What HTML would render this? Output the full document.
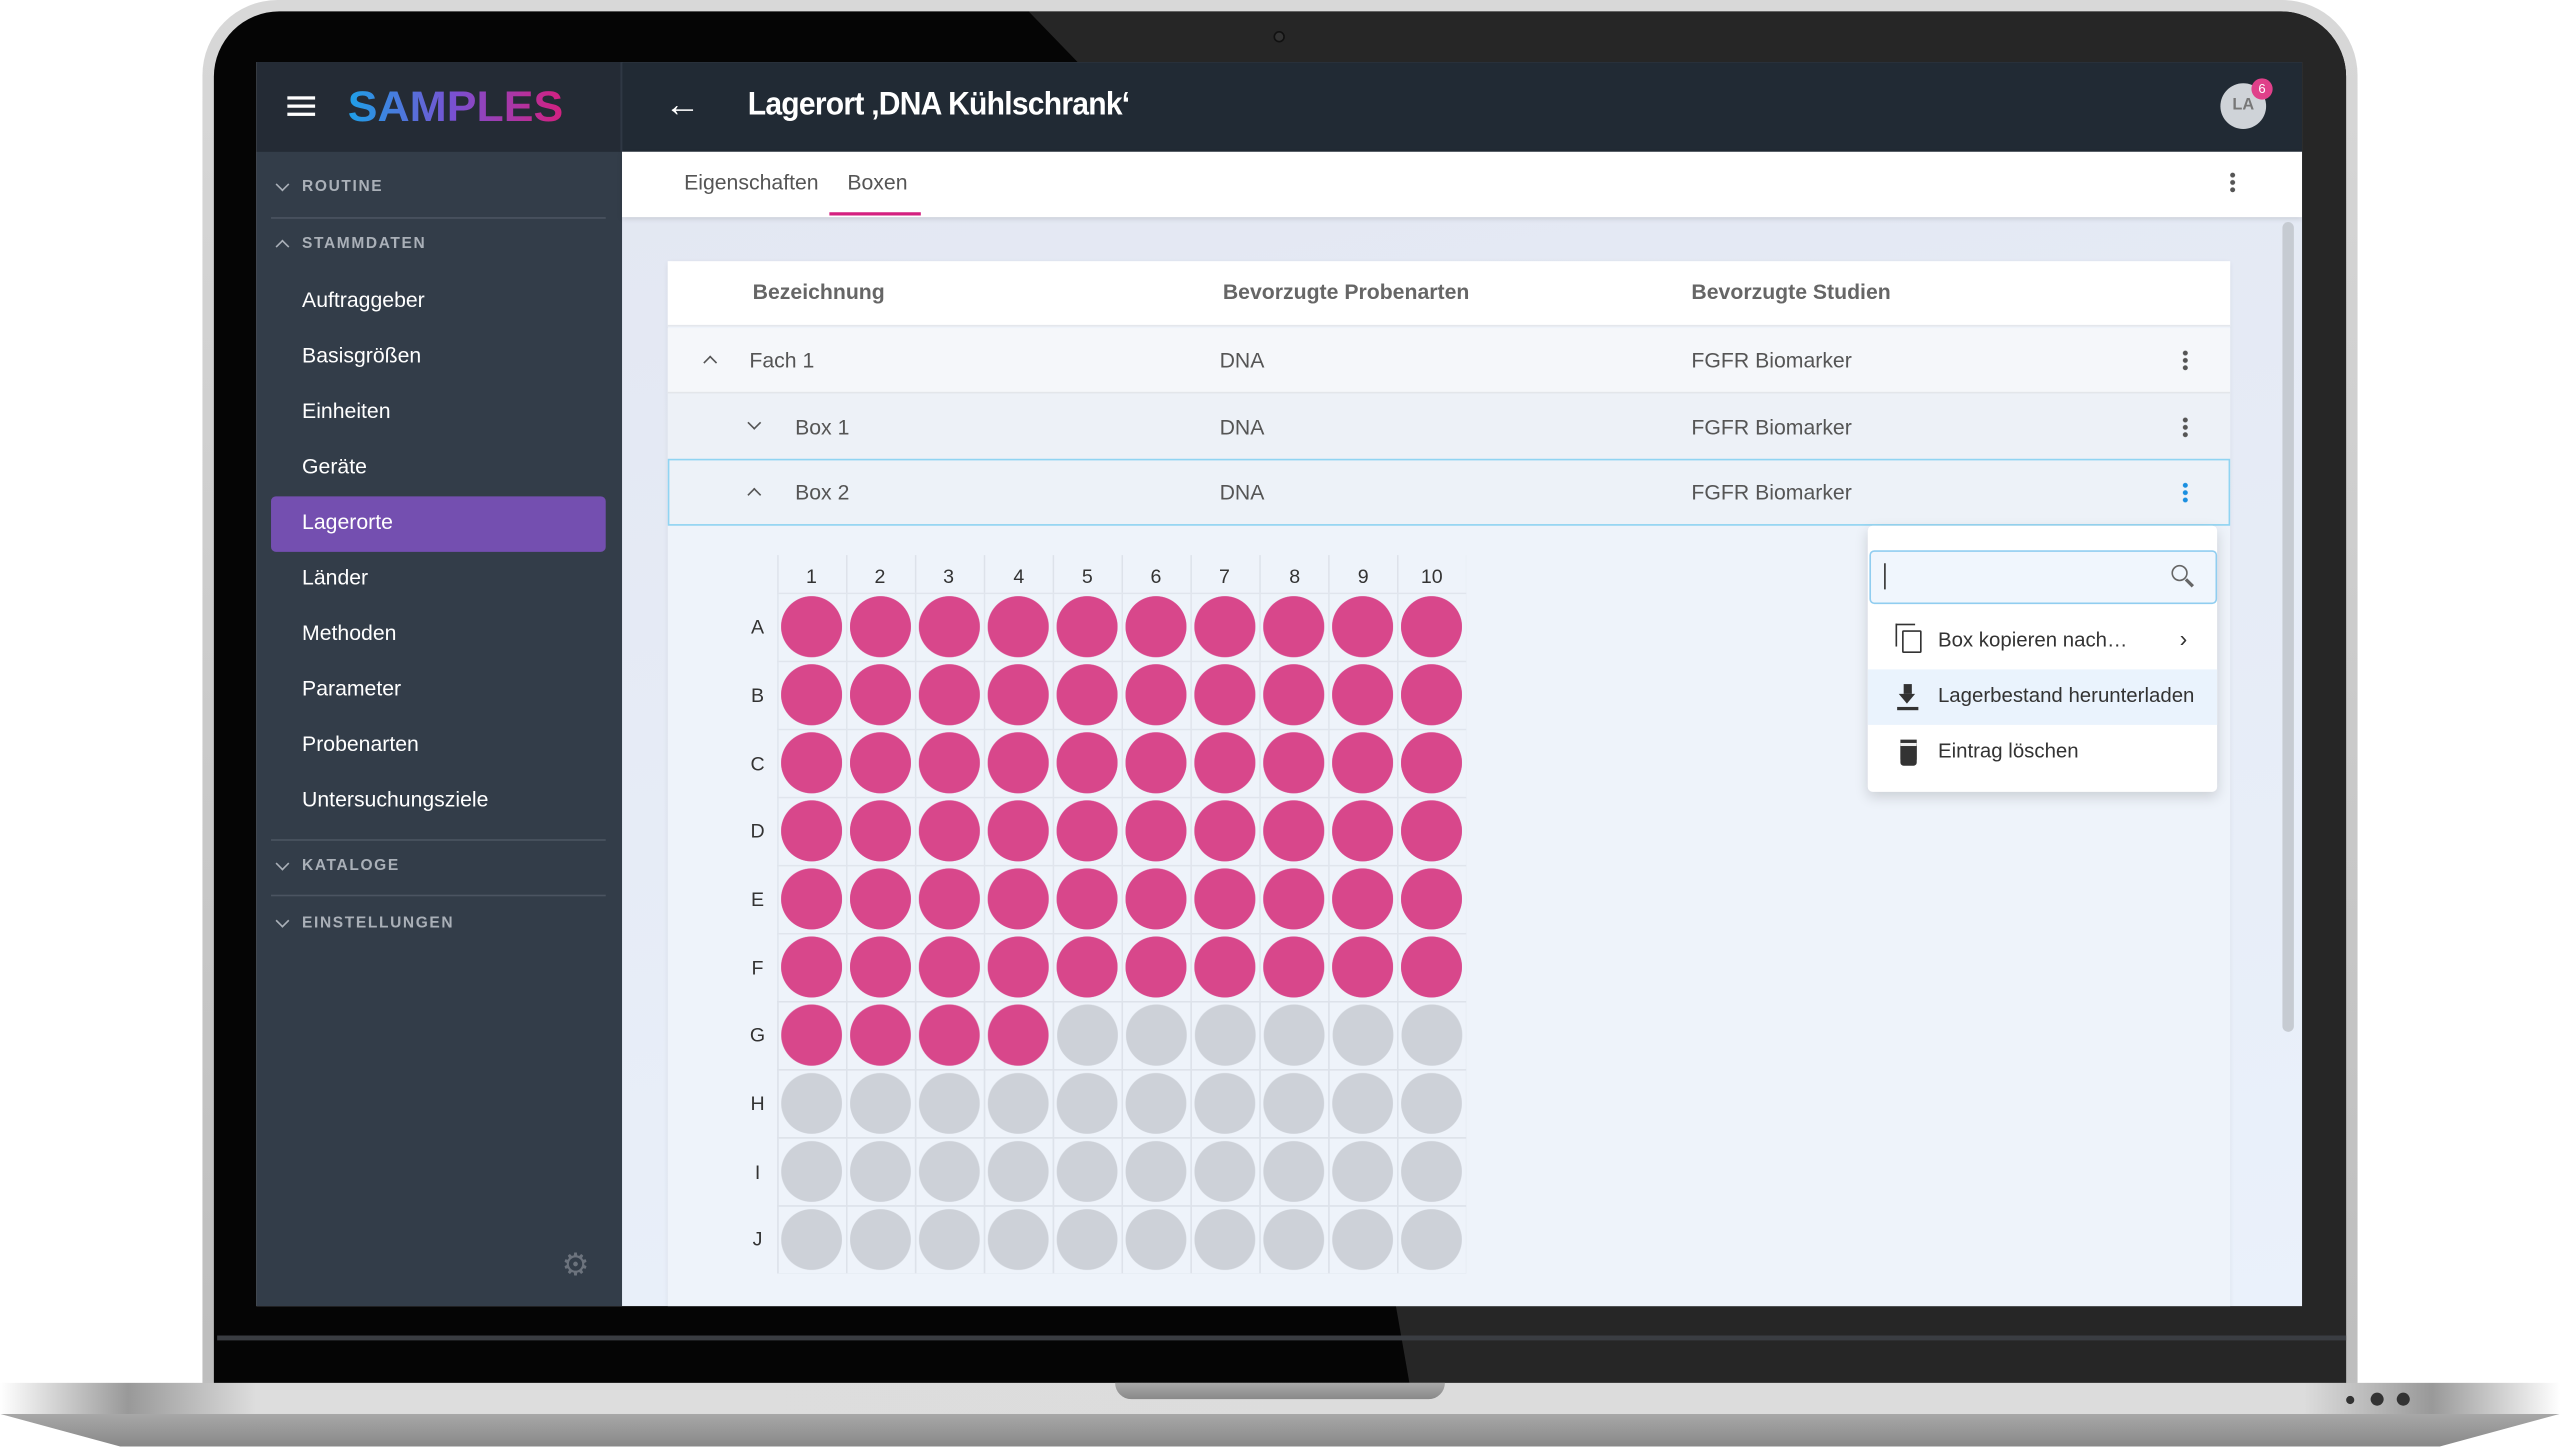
<!DOCTYPE html>
<html><head><meta charset="utf-8"><style>
*{margin:0;padding:0;box-sizing:border-box}
html,body{width:2560px;height:1446px;overflow:hidden;background:#fff}
#w{position:absolute;left:0;top:0;width:1568px;height:886px;transform:scale(1.63265);transform-origin:0 0;font-family:"Liberation Sans Narrow","Liberation Sans",sans-serif}
.a{position:absolute}
.t{position:absolute;white-space:nowrap}
.side{color:#fff;font-size:13px}
.sec{color:#aab0b8;font-size:9.5px;font-weight:bold;letter-spacing:1px;font-family:"Liberation Sans",sans-serif}
.row{font-size:13px;color:#555}
.hdr{font-size:13px;color:#666;font-weight:bold}
.dots{position:absolute;width:3px;height:13px;background:radial-gradient(circle,#555 1.4px,transparent 1.6px) 0 0/3px 4.5px repeat-y}
.lab{position:absolute;font-size:12px;color:#333;text-align:center;width:20px}
.cd,.cu{position:absolute;width:6px;height:6px;border-right:1.6px solid #aab0b8;border-bottom:1.6px solid #aab0b8}
.cd{transform:rotate(45deg)}.cu{transform:rotate(-135deg)}
.dk{border-color:#555}
</style></head><body><div id="w">
<!-- laptop lid -->
<div class="a" style="left:124px;top:0;width:1320px;height:860px;border-radius:46px 46px 0 0;background:linear-gradient(#d8d8d8,#bdbdbd);"></div>
<div class="a" style="left:131px;top:7px;width:1306px;height:850px;border-radius:40px 40px 0 0;background:#050505"></div>
<div class="a" style="left:131px;top:7px;width:1306px;height:850px;border-radius:40px 40px 0 0;background:#262626;clip-path:polygon(499px 0,100% 0,100% 100%,734px 100%,724px 793px,529px 31px)"></div>
<div class="a" style="left:133px;top:818px;width:1304px;height:3px;background:#3a3d42"></div>
<div class="a" style="left:780px;top:19px;width:7px;height:7px;border-radius:50%;background:#333;border:1.5px solid #111"></div>
<!-- base -->
<div class="a" style="left:0;top:847px;width:1568px;height:20px;background:linear-gradient(90deg,#fff 0,#999 5%,#ddd 10%,#dcdcdc 90%,#999 95%,#fff 100%)"></div>
<div class="a" style="left:0;top:866px;width:1568px;height:20px;background:linear-gradient(#a8a8a8,#888);clip-path:polygon(0 0,100% 0,95.3% 100%,4.7% 100%)"></div>
<div class="a" style="left:683px;top:847px;width:202px;height:10px;border-radius:0 0 10px 10px;background:linear-gradient(#aaa,#888)"></div>
<div class="a" style="left:1437px;top:855px;width:5px;height:5px;border-radius:50%;background:#333"></div>
<div class="a" style="left:1452px;top:853px;width:8px;height:8px;border-radius:50%;background:#333"></div>
<div class="a" style="left:1468px;top:853px;width:8px;height:8px;border-radius:50%;background:#333"></div>
<!-- screen -->
<div class="a" style="left:157px;top:38px;width:1253px;height:762px;background:linear-gradient(170deg,#e2e6f1,#eaf1fb);overflow:hidden">
 <div class="a" style="left:0;top:0;width:224px;height:762px;background:#333d49"></div>
 <div class="a" style="left:0;top:0;width:224px;height:55px;background:#242b35"></div>
 <div class="a" style="left:224px;top:0;width:1029px;height:55px;background:#212a34"></div>
 <div class="a" style="left:223px;top:0;width:1px;height:55px;background:#2f3844"></div>
 <div class="a" style="left:19px;top:21px;width:17px;height:2px;background:#fff;box-shadow:0 5px 0 #fff,0 10px 0 #fff"></div>
 <div class="t" style="left:56px;top:12px;font-size:26px;font-weight:bold;letter-spacing:0;font-family:'Liberation Sans',sans-serif;transform:scaleX(1.05);transform-origin:0 0;background:linear-gradient(90deg,#1ea0e8,#7b4fd0 50%,#d4207f);-webkit-background-clip:text;color:transparent">SAMPLES</div>
 <div class="t" style="left:250px;top:13px;color:#fff;font-size:22px">&#8592;</div>
 <div class="t" style="left:301px;top:15px;color:#fff;font-size:20px;font-weight:bold;letter-spacing:-0.5px;transform:scaleX(0.92);transform-origin:0 0">Lagerort ‚DNA Kühlschrank‘</div>
 <div class="a" style="left:1203px;top:13px;width:28px;height:28px;border-radius:50%;background:#cfd3d8;color:#777;font-size:10px;font-weight:bold;text-align:center;line-height:28px">LA</div>
 <div class="a" style="left:1222px;top:10px;width:13px;height:13px;border-radius:50%;background:#e0408a;color:#fff;font-size:8px;text-align:center;line-height:13px">6</div>
 <!-- sidebar -->
 <div class="cd" style="left:13px;top:72px"></div><div class="t sec" style="left:28px;top:71px">ROUTINE</div>
 <div class="a" style="left:9px;top:95px;width:205px;height:1px;background:#4b5461"></div>
 <div class="cu" style="left:13px;top:110px"></div><div class="t sec" style="left:28px;top:106px">STAMMDATEN</div>
 <div class="t side" style="left:28px;top:138px">Auftraggeber</div>
 <div class="t side" style="left:28px;top:172px">Basisgrößen</div>
 <div class="t side" style="left:28px;top:206px">Einheiten</div>
 <div class="t side" style="left:28px;top:240px">Geräte</div>
 <div class="a" style="left:9px;top:266px;width:205px;height:34px;border-radius:3px;background:#744fb0"></div>
 <div class="t side" style="left:28px;top:274px">Lagerorte</div>
 <div class="t side" style="left:28px;top:308px">Länder</div>
 <div class="t side" style="left:28px;top:342px">Methoden</div>
 <div class="t side" style="left:28px;top:376px">Parameter</div>
 <div class="t side" style="left:28px;top:410px">Probenarten</div>
 <div class="t side" style="left:28px;top:444px">Untersuchungsziele</div>
 <div class="a" style="left:9px;top:476px;width:205px;height:1px;background:#4b5461"></div>
 <div class="cd" style="left:13px;top:488px"></div><div class="t sec" style="left:28px;top:487px">KATALOGE</div>
 <div class="a" style="left:9px;top:510px;width:205px;height:1px;background:#4b5461"></div>
 <div class="cd" style="left:13px;top:523px"></div><div class="t sec" style="left:28px;top:522px">EINSTELLUNGEN</div>
 <div class="t" style="left:187px;top:726px;color:#6c737d;font-size:19px">&#9881;</div>
 <!-- tabs -->
 <div class="a" style="left:224px;top:55px;width:1029px;height:40px;background:#fff;box-shadow:0 1px 3px rgba(0,0,0,.12)"></div>
 <div class="t" style="left:262px;top:66px;font-size:13px;color:#555">Eigenschaften</div>
 <div class="t" style="left:362px;top:66px;font-size:13px;color:#555">Boxen</div>
 <div class="a" style="left:351px;top:92px;width:56px;height:2px;background:#d4207f"></div>
 <div class="dots" style="left:1209px;top:67px"></div>
 <div class="a" style="left:1241px;top:98px;width:7px;height:496px;border-radius:4px;background:#c6cbd2"></div>
 <!-- table -->
 <div class="a" style="left:252px;top:122px;width:957px;height:700px;background:#eef3fa;box-shadow:0 1px 3px rgba(0,0,0,.08)"></div>
 <div class="a" style="left:252px;top:122px;width:957px;height:40px;background:#fff;border-bottom:1px solid #e4e7ec"></div>
 <div class="t hdr" style="left:304px;top:133px">Bezeichnung</div>
 <div class="t hdr" style="left:592px;top:133px">Bevorzugte Probenarten</div>
 <div class="t hdr" style="left:879px;top:133px">Bevorzugte Studien</div>
 <div class="a" style="left:252px;top:163px;width:957px;height:40px;background:#f5f7fa;border-bottom:1px solid #e3e6ea"></div>
 <div class="cu dk" style="left:275px;top:181px"></div><div class="t row" style="left:302px;top:175px">Fach 1</div><div class="t row" style="left:590px;top:175px">DNA</div><div class="t row" style="left:879px;top:175px">FGFR Biomarker</div>
 <div class="dots" style="left:1180px;top:176px"></div>
 <div class="a" style="left:252px;top:203px;width:957px;height:40px;background:#edf1f7"></div>
 <div class="cd dk" style="left:302px;top:218px"></div><div class="t row" style="left:330px;top:216px">Box 1</div><div class="t row" style="left:590px;top:216px">DNA</div><div class="t row" style="left:879px;top:216px">FGFR Biomarker</div>
 <div class="dots" style="left:1180px;top:217px"></div>
 <div class="a" style="left:252px;top:243px;width:957px;height:41px;background:#edf2f8;border:1px solid #90d4f2"></div>
 <div class="cu dk" style="left:302px;top:262px"></div><div class="t row" style="left:330px;top:256px">Box 2</div><div class="t row" style="left:590px;top:256px">DNA</div><div class="t row" style="left:879px;top:256px">FGFR Biomarker</div>
 <div class="dots" style="left:1180px;top:257px;background:radial-gradient(circle,#1a8fe0 1.4px,transparent 1.6px) 0 0/3px 4.5px repeat-y"></div>
 <!-- grid -->
 <div class="a" style="left:319px;top:302px;width:422px;height:440px;background:linear-gradient(90deg,#dde2ea 1px,transparent 1px) 0 0/42.2px 100%, linear-gradient(#dde2ea 1px,transparent 1px) 0 23px/100% 41.7px;"></div>
 <div class="a" style="left:319px;top:325px;width:422px;height:250.2px;background:#eef3fa radial-gradient(circle 18.8px at 21.1px 20.85px,#d8478b 98%,transparent 100%) 0 0/42.2px 41.7px"></div>
 <div class="a" style="left:319px;top:325px;width:422px;height:417px;background:linear-gradient(90deg,#dde2ea 1px,transparent 1px) 0 0/42.2px 100%, linear-gradient(#dde2ea 1px,transparent 1px) 0 0/100% 41.7px;opacity:.8"></div>
 <div class="a" style="left:319px;top:325px;width:422px;height:250.2px;background:radial-gradient(circle 18.8px at 21.1px 20.85px,#d8478b 98%,transparent 100%) 0 0/42.2px 41.7px"></div>
 <div class="a" style="left:319px;top:575.2px;width:168.8px;height:41.7px;background:radial-gradient(circle 18.8px at 21.1px 20.85px,#d8478b 98%,transparent 100%) 0 0/42.2px 41.7px"></div>
 <div class="a" style="left:487.8px;top:575.2px;width:253.2px;height:41.7px;background:radial-gradient(circle 18.8px at 21.1px 20.85px,#cdd1d8 98%,transparent 100%) 0 0/42.2px 41.7px"></div>
 <div class="a" style="left:319px;top:616.9px;width:422px;height:125.1px;background:radial-gradient(circle 18.8px at 21.1px 20.85px,#cdd1d8 98%,transparent 100%) 0 0/42.2px 41.7px"></div>
 <div class="lab" style="left:330px;top:308px">1</div><div class="lab" style="left:372px;top:308px">2</div><div class="lab" style="left:414px;top:308px">3</div><div class="lab" style="left:457px;top:308px">4</div><div class="lab" style="left:499px;top:308px">5</div><div class="lab" style="left:541px;top:308px">6</div><div class="lab" style="left:583px;top:308px">7</div><div class="lab" style="left:626px;top:308px">8</div><div class="lab" style="left:668px;top:308px">9</div><div class="lab" style="left:710px;top:308px">10</div>
 <div class="lab" style="left:297px;top:339px">A</div><div class="lab" style="left:297px;top:381px">B</div><div class="lab" style="left:297px;top:423px">C</div><div class="lab" style="left:297px;top:464px">D</div><div class="lab" style="left:297px;top:506px">E</div><div class="lab" style="left:297px;top:548px">F</div><div class="lab" style="left:297px;top:589px">G</div><div class="lab" style="left:297px;top:631px">H</div><div class="lab" style="left:297px;top:673px">I</div><div class="lab" style="left:297px;top:714px">J</div>
 <!-- menu -->
 <div class="a" style="left:987px;top:284px;width:214px;height:163px;background:#fff;border-radius:3px;box-shadow:0 3px 8px rgba(0,0,0,.15)"></div>
 <div class="a" style="left:988px;top:299px;width:213px;height:33px;border:1px solid #90cdf0;border-radius:3px;background:#f0f6fd"></div>
 <div class="a" style="left:997px;top:307px;width:1px;height:16px;background:#333"></div>
 <div class="a" style="left:1173px;top:308px;width:10px;height:10px;border:1.6px solid #666;border-radius:50%"></div>
 <div class="a" style="left:1181px;top:318px;width:6px;height:2px;background:#666;transform:rotate(45deg)"></div>
 <div class="a" style="left:1008px;top:348px;width:12px;height:14px;border:1.5px solid #333;border-radius:1px"></div>
 <div class="a" style="left:1004px;top:344px;width:12px;height:14px;border-left:1.5px solid #333;border-top:1.5px solid #333"></div>
 <div class="t" style="left:1030px;top:347px;font-size:12.5px;color:#333">Box kopieren nach…</div>
 <div class="t" style="left:1178px;top:345px;font-size:14px;color:#333">&#8250;</div>
 <div class="a" style="left:987px;top:372px;width:214px;height:34px;background:#eaf3fd"></div>
 <div class="a" style="left:1009px;top:381px;width:5px;height:6px;background:#333"></div>
 <div class="a" style="left:1006px;top:387px;width:0;height:0;border-left:5.5px solid transparent;border-right:5.5px solid transparent;border-top:6px solid #333"></div>
 <div class="a" style="left:1005px;top:395px;width:13px;height:1.8px;background:#333"></div>
 <div class="t" style="left:1030px;top:381px;font-size:12.5px;color:#333">Lagerbestand herunterladen</div>
 <div class="a" style="left:1007px;top:417px;width:10px;height:14px;background:#333;border-radius:0 0 2px 2px;border-top:2px solid #eee;box-shadow:0 -2px 0 #333"></div>
 <div class="t" style="left:1030px;top:415px;font-size:12.5px;color:#333">Eintrag löschen</div>
</div>
</div></body></html>
